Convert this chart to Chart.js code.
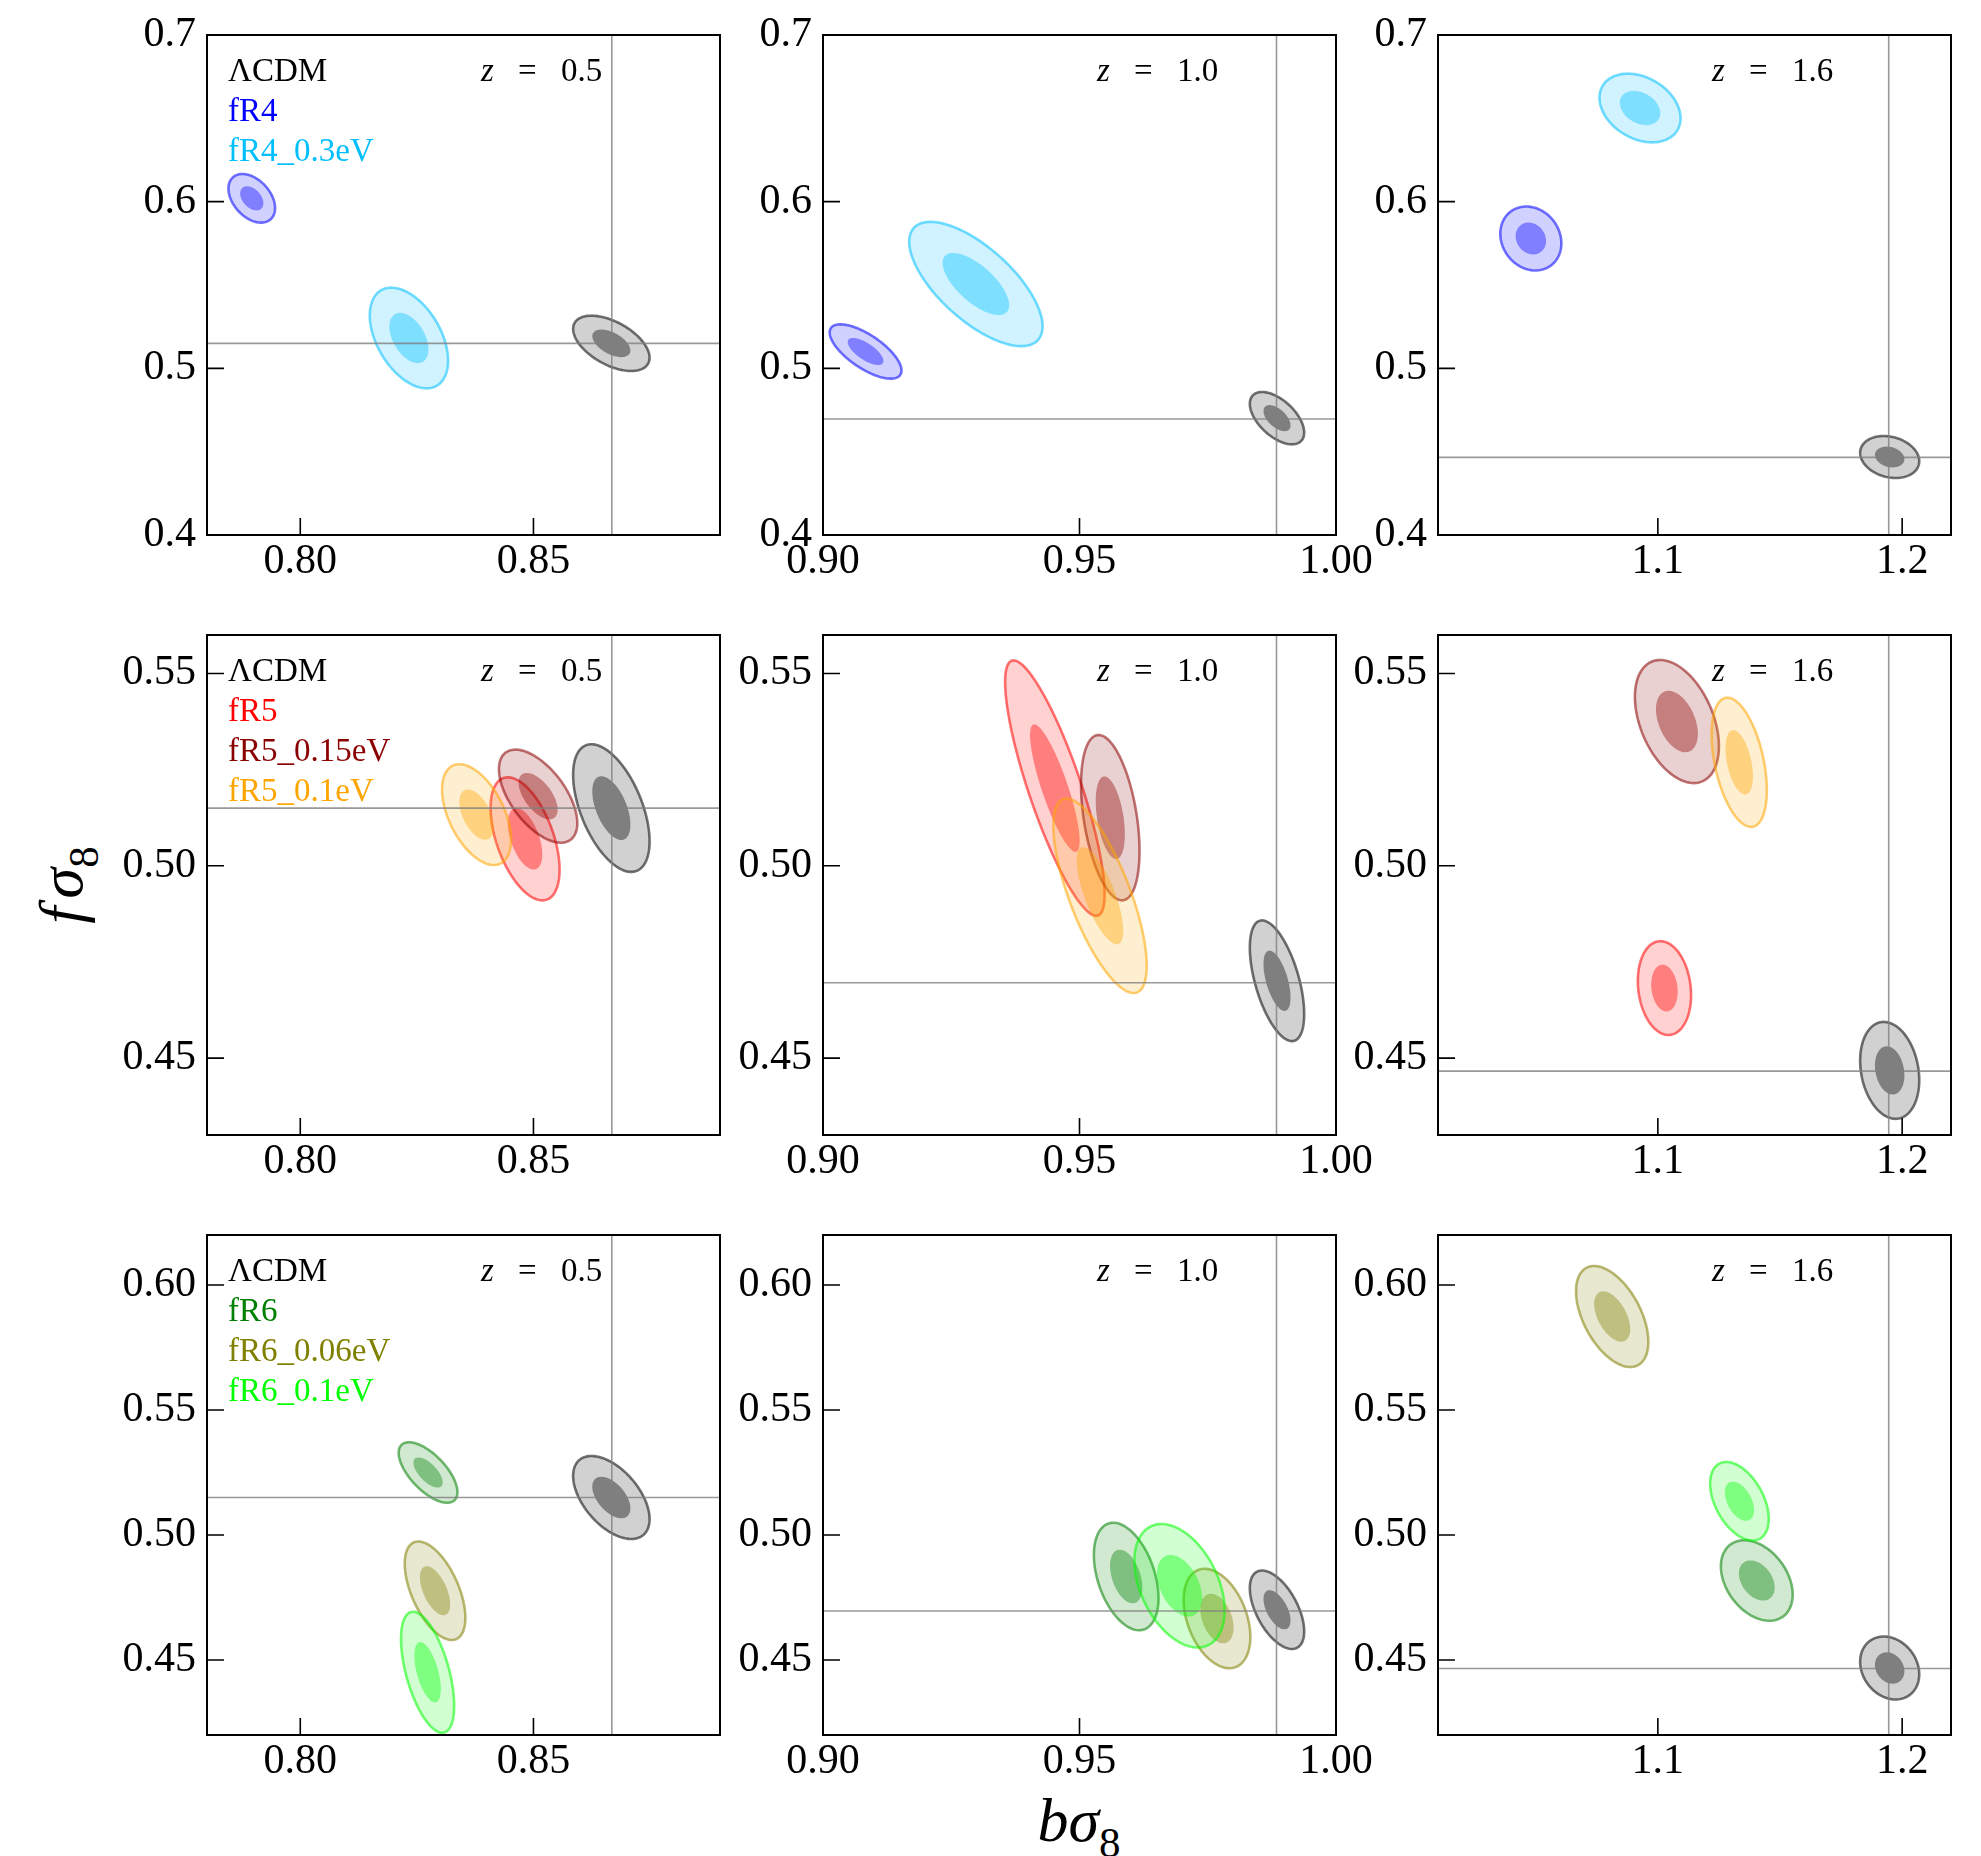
<!DOCTYPE html>
<html lang="en">

<head>
  <meta charset="UTF-8" />
  <title>f sigma8 vs b sigma8 contours</title>
  <script src="https://cdn.jsdelivr.net/npm/chart.js"></script>
  <style>
    body {
      margin: 0;
      background: #fff;
      overflow: hidden;
    }

    #figure {
      position: relative;
      width: 1981px;
      height: 1856px;
    }

    #figure canvas {
      position: absolute;
    }

    .axis-title {
      position: absolute;
      width: 200px;
      height: 62px;
      line-height: 62px;
      text-align: center;
      font: italic 62px 'Liberation Serif', 'DejaVu Serif', serif;
      color: #000;
      white-space: nowrap;
    }

    .axis-title .sub {
      font-style: normal;
      font-size: 43px;
      position: relative;
      top: 16px;
    }

    .axis-title .f {
      margin-right: 8px;
      margin-left: -4px;
    }

    #xTitle {
      left: 979px;
      top: 1785px;
    }

    #yTitle {
      left: -43px;
      top: 852px;
      transform: rotate(-90deg);
    }
  </style>
</head>

<body>
  <div id="figure">
    <div class="axis-title" id="xTitle">bσ<span class="sub">8</span></div>
    <div class="axis-title" id="yTitle"><span class="f">f</span>σ<span class="sub">8</span></div>
  </div>

  <script>
    // --- data ---
    const redshifts = ['0.5', '1.0', '1.6'];

    // one entry per column (redshift)
    const xMin = [0.78, 0.90, 1.01];
    const xMax = [0.89, 1.00, 1.22];
    const xTickLabels = [['0.80', '0.85'], ['0.90', '0.95', '1.00'], ['1.1', '1.2']];
    const fidX = [0.8668, 0.9884, 1.1945];
    const fidY = [0.5150, 0.4696, 0.4466];

    // one entry per row (model family)
    const yMin = [0.40, 0.43, 0.42];
    const yMax = [0.70, 0.56, 0.62];
    const yTickLabels = [['0.4', '0.5', '0.6', '0.7'], ['0.45', '0.50', '0.55'], ['0.45', '0.50', '0.55', '0.60']];
    const rowModels = [
      ['ΛCDM', 'fR4', 'fR4_0.3eV'],
      ['ΛCDM', 'fR5', 'fR5_0.15eV', 'fR5_0.1eV'],
      ['ΛCDM', 'fR6', 'fR6_0.06eV', 'fR6_0.1eV']
    ];

    // per model, one entry per redshift:
    // [bσ8 centre, fσ8 centre, 95% half-width in bσ8, 95% half-width in fσ8, correlation]
    const lcdm = [[0.8667, 0.5150, 0.0082, 0.0166, -0.52], [0.9885, 0.4701, 0.0053, 0.0157, -0.55], [1.1949, 0.4468, 0.0121, 0.0126, -0.20]];
    const fR4 = [[0.7896, 0.6020, 0.0050, 0.0146, -0.40], [0.9083, 0.5101, 0.0070, 0.0163, -0.70], [1.0480, 0.5779, 0.0125, 0.0192, -0.15]];
    const fR4_03 = [[0.8233, 0.5182, 0.0084, 0.0302, -0.45], [0.9298, 0.5506, 0.0130, 0.0373, -0.68], [1.0927, 0.6562, 0.0166, 0.0206, -0.30]];
    const fR5 = [[0.8482, 0.5070, 0.0074, 0.0160, -0.50], [0.9452, 0.5202, 0.0097, 0.0332, -0.83], [1.1027, 0.4682, 0.0109, 0.0122, -0.15]];
    const fR5_015 = [[0.8510, 0.5181, 0.0084, 0.0121, -0.58], [0.9560, 0.5125, 0.0057, 0.0215, -0.40], [1.1078, 0.5375, 0.0172, 0.0160, -0.40]];
    const fR5_01 = [[0.8378, 0.5133, 0.0074, 0.0131, -0.50], [0.9540, 0.4922, 0.0091, 0.0253, -0.72], [1.1333, 0.5269, 0.0113, 0.0168, -0.43]];
    const fR6 = [[0.8274, 0.5250, 0.0063, 0.0121, -0.65], [0.9591, 0.4834, 0.0063, 0.0215, -0.40], [1.1405, 0.4818, 0.0147, 0.0161, -0.35]];
    const fR6_006 = [[0.8289, 0.4777, 0.0065, 0.0197, -0.55], [0.9768, 0.4666, 0.0065, 0.0199, -0.37], [1.0813, 0.5874, 0.0148, 0.0202, -0.50]];
    const fR6_01 = [[0.8273, 0.4451, 0.0057, 0.0242, -0.55], [0.9695, 0.4797, 0.0088, 0.0247, -0.40], [1.1334, 0.5135, 0.0120, 0.0157, -0.45]];

    // 68% contour relative to the 95% one
    const innerScale = 0.5;

    const fits = {
      'ΛCDM': lcdm, 'fR4': fR4, 'fR4_0.3eV': fR4_03,
      'fR5': fR5, 'fR5_0.15eV': fR5_015, 'fR5_0.1eV': fR5_01,
      'fR6': fR6, 'fR6_0.06eV': fR6_006, 'fR6_0.1eV': fR6_01
    };

    // --- styles ---
    const colors = {
      'ΛCDM': '0,0,0', 'fR4': '0,0,255', 'fR4_0.3eV': '0,191,255',
      'fR5': '255,0,0', 'fR5_0.15eV': '139,0,0', 'fR5_0.1eV': '255,165,0',
      'fR6': '0,128,0', 'fR6_0.06eV': '128,128,0', 'fR6_0.1eV': '0,255,0'
    };
    const fontFamily = "'Liberation Serif', 'DejaVu Serif', serif";
    const panelLeft = [207, 823, 1438];
    const panelTop = [35, 635, 1235];
    const panelW = 513;
    const panelH = 500;
    const padL = 130, padT = 45, padR = 60, padB = 80;

    function traceEllipse(ctx, xs, ys, fit, k) {
      const [cx, cy, dx, dy, rho] = fit;
      const s = Math.sqrt(1 - rho * rho);
      const n = 120;
      for (let i = 0; i <= n; i++) {
        const t = i / n * 2 * Math.PI;
        const px = xs.getPixelForValue(cx + k * dx * Math.cos(t));
        const py = ys.getPixelForValue(cy + k * dy * (rho * Math.cos(t) + s * Math.sin(t)));
        if (i === 0) ctx.moveTo(px, py); else ctx.lineTo(px, py);
      }
      ctx.closePath();
    }

    const contourPlugin = {
      id: 'contours',
      beforeDatasetsDraw(chart, args, opts) {
        const { ctx, chartArea: a, scales: { x, y } } = chart;
        ctx.save();
        ctx.beginPath();
        ctx.rect(a.left, a.top, a.right - a.left, a.bottom - a.top);
        ctx.clip();

        chart.data.datasets.forEach(ds => {
          // 95% band
          ctx.beginPath();
          traceEllipse(ctx, x, y, ds.fit, 1);
          traceEllipse(ctx, x, y, ds.fit, innerScale);
          ctx.fillStyle = `rgba(${ds.rgb},0.18)`;
          ctx.fill('evenodd');
          // 68% region
          ctx.beginPath();
          traceEllipse(ctx, x, y, ds.fit, innerScale);
          ctx.fillStyle = `rgba(${ds.rgb},0.5)`;
          ctx.fill();
          // outline
          ctx.beginPath();
          traceEllipse(ctx, x, y, ds.fit, 1);
          ctx.strokeStyle = `rgba(${ds.rgb},0.55)`;
          ctx.lineWidth = 2.6;
          ctx.stroke();
        });

        // fiducial lines
        const fx = x.getPixelForValue(fidX[opts.col]);
        const fy = y.getPixelForValue(fidY[opts.col]);
        ctx.strokeStyle = 'rgba(128,128,128,0.8)';
        ctx.lineWidth = 1.6;
        ctx.beginPath();
        ctx.moveTo(fx, a.top);
        ctx.lineTo(fx, a.bottom);
        ctx.moveTo(a.left, fy);
        ctx.lineTo(a.right, fy);
        ctx.stroke();
        ctx.restore();
      },
      afterDraw(chart, args, opts) {
        const { ctx, chartArea: a, scales: { x, y } } = chart;
        ctx.save();
        // inward ticks
        ctx.strokeStyle = '#000';
        ctx.lineWidth = 1.6;
        ctx.beginPath();
        x.ticks.forEach(t => {
          const px = x.getPixelForValue(t.value);
          ctx.moveTo(px, a.bottom);
          ctx.lineTo(px, a.bottom - 17);
        });
        y.ticks.forEach(t => {
          const py = y.getPixelForValue(t.value);
          ctx.moveTo(a.left, py);
          ctx.lineTo(a.left + 17, py);
        });
        ctx.stroke();
        // frame
        ctx.lineWidth = 2;
        ctx.strokeRect(a.left, a.top, a.right - a.left, a.bottom - a.top);

        // redshift label
        ctx.fillStyle = '#000';
        ctx.textBaseline = 'alphabetic';
        ctx.textAlign = 'left';
        const zx = a.left + 274, zy = a.top + 46;
        ctx.font = `italic 33px ${fontFamily}`;
        ctx.fillText('z', zx, zy);
        ctx.font = `33px ${fontFamily}`;
        ctx.fillText('=', zx + 37, zy);
        ctx.fillText(redshifts[opts.col], zx + 80, zy);

        // legend in the first column
        if (opts.col === 0) {
          chart.data.datasets.forEach((ds, i) => {
            ctx.fillStyle = `rgb(${ds.rgb})`;
            ctx.fillText(ds.label, a.left + 21, a.top + 46 + 40 * i);
          });
        }
        ctx.restore();
      }
    };

    const figure = document.getElementById('figure');

    for (let r = 0; r < 3; r++) {
      for (let c = 0; c < 3; c++) {
        const cv = document.createElement('canvas');
        cv.width = panelW + padL + padR;
        cv.height = panelH + padT + padB;
        cv.style.left = (panelLeft[c] - padL) + 'px';
        cv.style.top = (panelTop[r] - padT) + 'px';
        figure.appendChild(cv);

        const xLabels = xTickLabels[c];
        const yLabels = yTickLabels[r];

        new Chart(cv, {
          type: 'scatter',
          data: {
            datasets: rowModels[r].map(m => ({
              label: m,
              data: [{ x: fits[m][c][0], y: fits[m][c][1] }],
              pointRadius: 0,
              fit: fits[m][c],
              rgb: colors[m]
            }))
          },
          options: {
            responsive: false,
            animation: false,
            devicePixelRatio: 1,
            events: [],
            layout: { padding: { left: 0, top: padT, right: padR, bottom: 0 } },
            plugins: {
              legend: { display: false },
              tooltip: { enabled: false },
              contours: { row: r, col: c }
            },
            scales: {
              x: {
                type: 'linear',
                position: 'bottom',
                min: xMin[c],
                max: xMax[c],
                grid: { display: false, drawTicks: false },
                border: { display: false },
                afterBuildTicks: s => { s.ticks = xLabels.map(v => ({ value: parseFloat(v) })); },
                afterFit: s => { s.height = padB; },
                ticks: {
                  callback: (v, i) => xLabels[i],
                  font: { family: fontFamily, size: 42 },
                  color: '#000',
                  padding: 2,
                  maxRotation: 0,
                  autoSkip: false
                }
              },
              y: {
                type: 'linear',
                position: 'left',
                min: yMin[r],
                max: yMax[r],
                grid: { display: false, drawTicks: false },
                border: { display: false },
                afterBuildTicks: s => { s.ticks = yLabels.map(v => ({ value: parseFloat(v) })); },
                afterFit: s => { s.width = padL; },
                ticks: {
                  callback: (v, i) => yLabels[i],
                  font: { family: fontFamily, size: 42 },
                  color: '#000',
                  padding: 11,
                  autoSkip: false
                }
              }
            }
          },
          plugins: [contourPlugin]
        });
      }
    }
  </script>
</body>

</html>
